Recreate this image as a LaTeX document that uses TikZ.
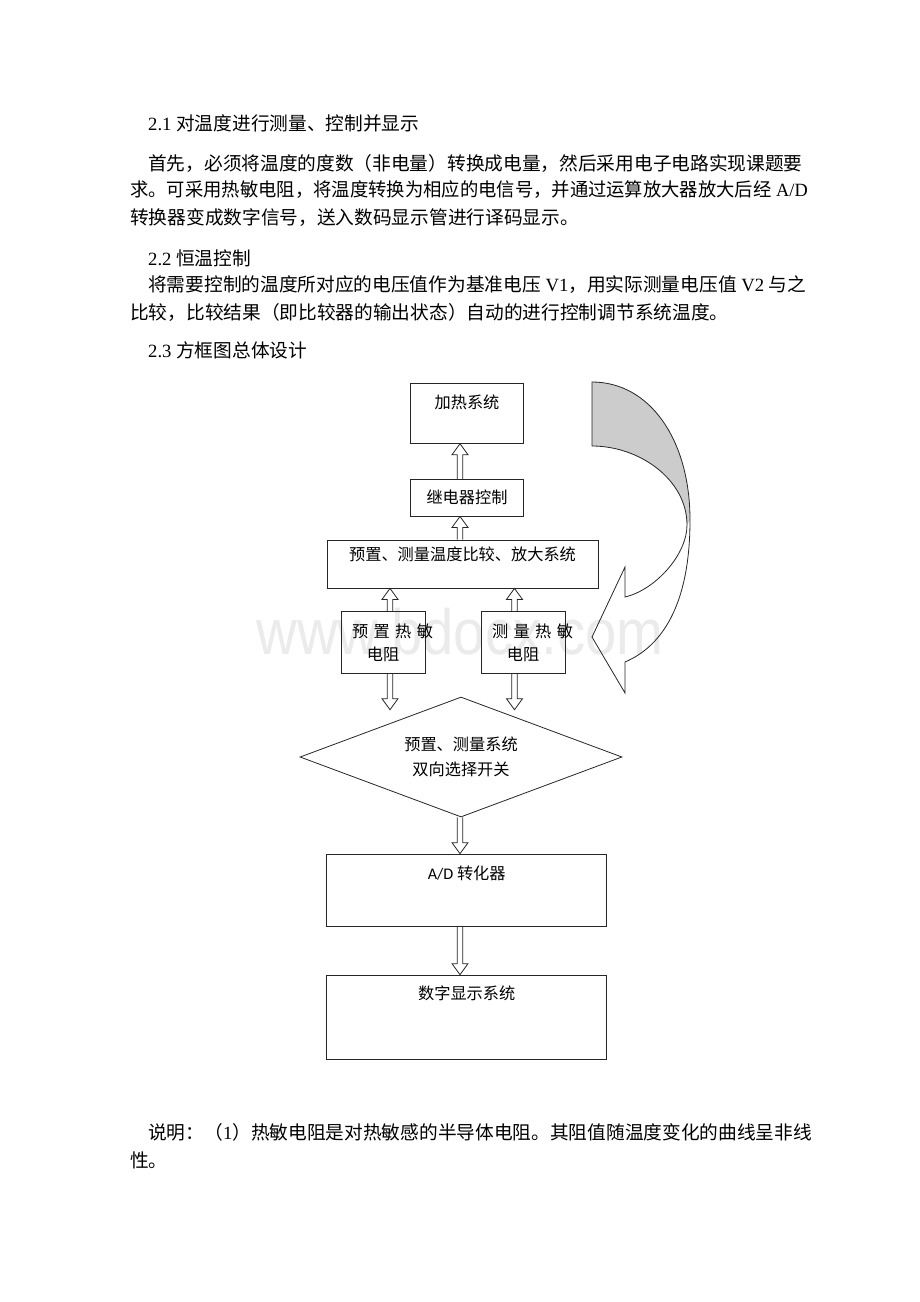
\documentclass[tikz,border=0pt]{standalone}
\usepackage{fontspec}
\setmainfont{Liberation Serif}
\newfontfamily\cjk{Noto Sans CJK SC}
\newfontfamily\calib{Carlito}
\newfontfamily\wmfont{Liberation Sans}
\usetikzlibrary{calc,shapes.geometric}

\tikzstyle{conn} = [draw=black!85, line width=0.8pt, line join=miter]
\tikzstyle{box} = [rectangle, draw=black!85, line width=0.8pt, inner sep=0pt, font=\cjk\fontsize{16.2}{23.3}\selectfont, align=center]
\tikzstyle{sensor} = [box, text width=84pt, minimum height=61.6pt]
\tikzstyle{switch} = [diamond, aspect=2.68, draw=black!85, line width=0.8pt, inner sep=0pt, minimum width=322pt, minimum height=120pt, font=\cjk\fontsize{16.2}{25}\selectfont, align=center]
\tikzstyle{para} = [anchor=west, inner sep=0pt, font=\cjk\fontsize{18.7}{22}\selectfont]
\tikzstyle{toptext} = [anchor=center, yshift=-19.5pt, inner sep=0pt, font=\cjk\fontsize{16.2}{23.3}\selectfont]

% hollow block arrow, tip at #2
\newcommand{\dblarrow}[2]{%
  \draw[conn] let \p1=(#1), \p2=(#2), \p3=($(\x1,\y2)!11pt!(\x1,\y1)$) in
    ({\x1-2.7pt},\y1) -- ({\x1-2.7pt},\y3) -- ({\x1-8pt},\y3)
    -- (\x1,\y2) -- ({\x1+8pt},\y3) -- ({\x1+2.7pt},\y3)
    -- ({\x1+2.7pt},\y1);
}

\begin{document}
\begin{tikzpicture}[x=1pt, y=-1pt]

        \fill[white] (0,0) rectangle (920,1302);
        \useasboundingbox (0,0) rectangle (920,1302);

        % Watermark
        \node[text=black!8, font=\wmfont\fontsize{64}{64}\selectfont, xscale=0.88] (wm) at (460,632) {www.bdocx.com};

        % Text
        \node (t1) [para] at (148,123) {{\rmfamily 2.1 }对温度进行测量、控制并显示};
        \node (p1a) [para] at (148,163) {首先，必须将温度的度数（非电量）转换成电量，然后采用电子电路实现课题要};
        \node (p1b) [para, xscale=0.98] at (130,190) {求。可采用热敏电阻，将温度转换为相应的电信号，并通过运算放大器放大后经{\rmfamily\ A/D}};
        \node (p1c) [para] at (130,218) {转换器变成数字信号，送入数码显示管进行译码显示。};
        \node (t2) [para] at (148,258) {{\rmfamily 2.2 }恒温控制};
        \node (p2a) [para] at (148,285) {将需要控制的温度所对应的电压值作为基准电压{\rmfamily\ V1}，用实际测量电压值{\rmfamily\ V2 }与之};
        \node (p2b) [para] at (130,312) {比较，比较结果（即比较器的输出状态）自动的进行控制调节系统温度。};
        \node (t3) [para] at (148,350) {{\rmfamily 2.3 }方框图总体设计};
        \node (n1) [para] at (148,1132) {说明：（{\rmfamily 1}）热敏电阻是对热敏感的半导体电阻。其阻值随温度变化的曲线呈非线};
        \node (n2) [para] at (130,1160) {性。};

        % Nodes
        \node (heat) [box, minimum width=112.6pt, minimum height=60pt,
            label={[toptext]north:加热系统}] at (467,413.3) {};
        \node (relay) [box, minimum width=112.6pt, minimum height=36.7pt] at (467,497.7) {继电器控制};
        \node (cmp) [box, minimum width=271pt, minimum height=48pt] at (462.5,564) {预置、测量温度比较、放大系统\\[-3pt]};
        \node (presen) [sensor] at (383,642.5) {\mbox{\hspace*{11pt}预 置 热 敏}\\电阻};
        \node (meassen) [sensor] at (523,642.5) {\mbox{\hspace*{11pt}测 量 热 敏}\\电阻};
        \node (sw) [switch] at (461,757) {预置、测量系统\\双向选择开关};
        \node (adc) [box, minimum width=280pt, minimum height=72.7pt,
            label={[toptext]north:{{\calib A/D} 转化器}}] at (466.7,890.4) {};
        \node (disp) [box, minimum width=280pt, minimum height=84.3pt,
            label={[toptext, yshift=1pt]north:数字显示系统}] at (466.7,1017.2) {};

        % Arrows
        \dblarrow{[xshift=-7pt]relay.north}{heat.south}
        \dblarrow{[xshift=-2.5pt]cmp.north}{relay.south}
        \dblarrow{[xshift=7pt]presen.north}{cmp.south}
        \dblarrow{[xshift=-8.5pt]meassen.north}{cmp.south}
        \dblarrow{[xshift=7pt]presen.south}{[yshift=-36pt]presen.south}
        \dblarrow{[xshift=-8.5pt]meassen.south}{[yshift=-36pt]meassen.south}
        \dblarrow{[xshift=-1pt]sw.south}{adc.north}
        \dblarrow{[xshift=-6.7pt]adc.south}{disp.north}

        % Curved arrow
        \fill[black!20] (592,382) .. controls (650,382) and (690,440) .. (690,520)
            -- (687,525) .. controls (687,480) and (640,446) .. (592,446) -- cycle;
        \draw[conn] (592,446) -- (592,382) .. controls (650,382) and (690,440) .. (690,520)
            .. controls (690,600) and (665,645) .. (625,662) -- (625,693) -- (592,637)
            -- (625,567) -- (625,597) .. controls (655,590) and (687,555) .. (687,525)
            .. controls (687,480) and (640,446) .. (592,446);

\end{tikzpicture}
\end{document}
